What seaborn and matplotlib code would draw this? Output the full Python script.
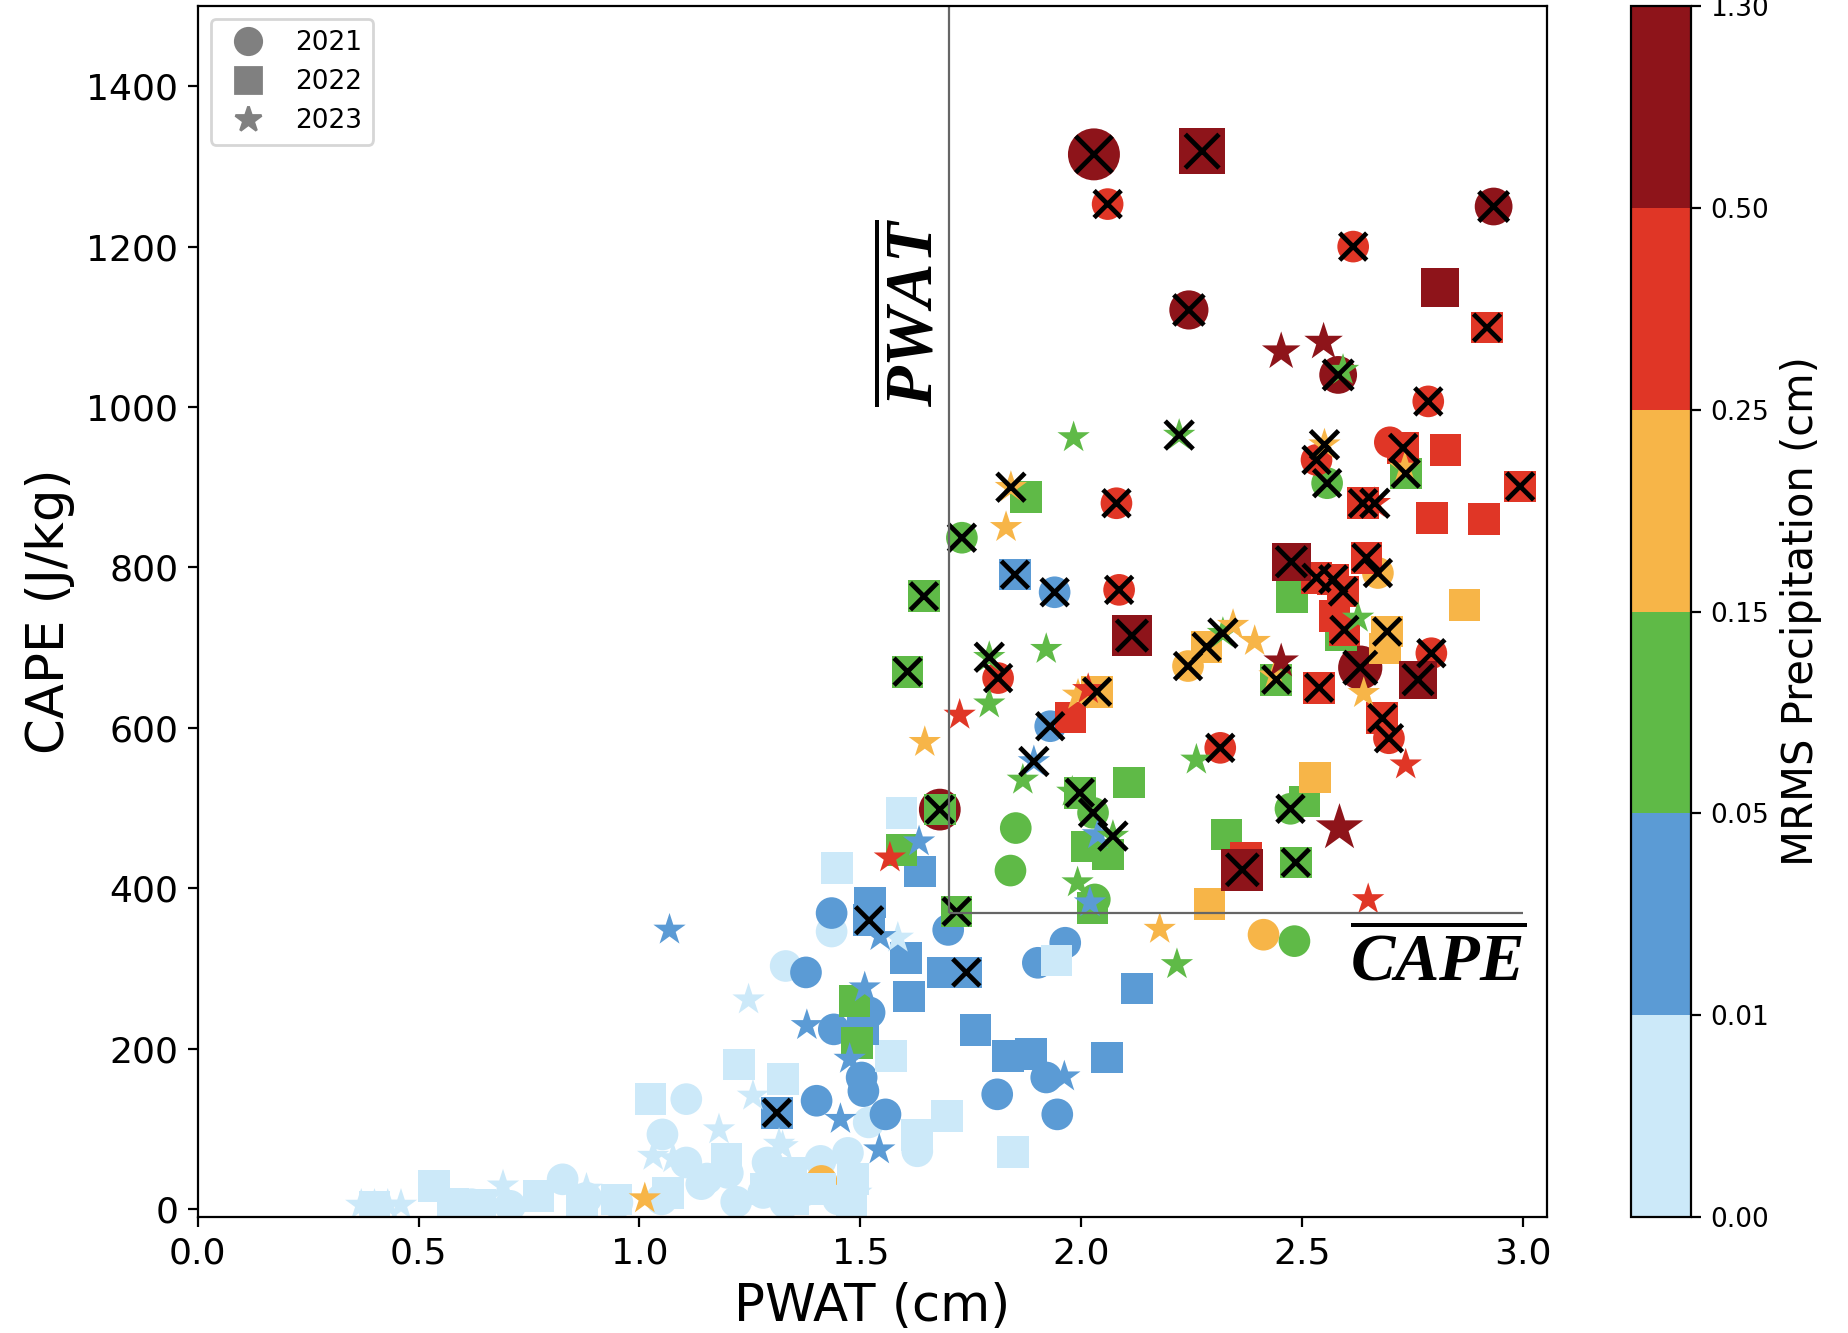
import matplotlib
matplotlib.use('Agg')
import matplotlib.pyplot as plt
from matplotlib.colors import ListedColormap, BoundaryNorm
from matplotlib.cm import ScalarMappable
from matplotlib.lines import Line2D
import pandas as pd
import seaborn as sns

plt.rcParams['mathtext.fontset'] = 'custom'
plt.rcParams['mathtext.bf'] = 'Liberation Serif:italic:bold'

bounds = [0, 0.01, 0.05, 0.15, 0.25, 0.5, 1.3]
bound_labels = ['0.00', '0.01', '0.05', '0.15', '0.25', '0.50', '1.30']
bin_colors = ['#cce9f9', '#5b9bd5', '#5fba47', '#f7b548', '#e03626', '#8e141a']
year_markers = {2021: 'o', 2022: 's', 2023: '*'}

# mean lines
pwat_mean = 1.70
cape_mean = 369

# ---- 2021 (circles), ordered light blue -> dark red
pwat_2021 = [1.435, 1.331, 1.519, 1.472, 1.629, 1.106, 1.106, 1.052, 1.140, 1.219, 1.290, 0.826,
             0.707, 1.153, 1.374, 0.950, 1.050, 1.280, 1.330, 0.620, 0.880, 1.450, 1.200, 1.410,
             1.940, 1.930, 1.699, 1.435, 1.377, 1.902, 1.964, 1.521, 1.440, 1.503, 1.507, 1.401,
             1.557, 1.810, 1.946, 1.921,
             2.557, 1.730, 2.027, 1.852, 1.840, 2.031, 2.474, 2.483,
             2.242, 2.672, 2.413, 1.412,
             2.060, 2.616, 2.786, 2.080, 2.533, 2.699, 2.086, 1.812, 2.315, 2.793, 2.697,
             2.029, 2.244, 2.934, 2.582, 2.632, 1.680]
cape_2021 = [346, 303, 108, 70, 72, 137, 58, 93, 31, 9, 58, 37,
             4, 38, 23, 8, 12, 20, 8, 6, 14, 12, 45, 60,
             769, 602, 348, 369, 295, 307, 332, 245, 224, 164, 147, 135,
             118, 143, 118, 164,
             905, 837, 494, 475, 422, 386, 499, 334,
             677, 793, 342, 35,
             1253, 1200, 1007, 880, 934, 956, 772, 662, 575, 693, 587,
             1315, 1121, 1250, 1040, 675, 498]
precip_2021 = [0.005, 0.005, 0.005, 0.005, 0.005, 0.005, 0.005, 0.005, 0.005, 0.005, 0.005, 0.005,
               0.005, 0.005, 0.005, 0.005, 0.005, 0.005, 0.005, 0.005, 0.005, 0.005, 0.005, 0.005,
               0.03, 0.03, 0.03, 0.03, 0.03, 0.03, 0.03, 0.03, 0.03, 0.03, 0.03, 0.03,
               0.03, 0.03, 0.03, 0.03,
               0.1, 0.1, 0.1, 0.1, 0.1, 0.1, 0.1, 0.1,
               0.2, 0.2, 0.2, 0.2,
               0.35, 0.35, 0.35, 0.35, 0.35, 0.35, 0.35, 0.35, 0.35, 0.35, 0.35,
               1.30, 0.75, 0.70, 0.70, 0.95, 0.85]
cross_2021 = [0, 0, 0, 0, 0, 0, 0, 0, 0, 0, 0, 0,
              0, 0, 0, 0, 0, 0, 0, 0, 0, 0, 0, 0,
              1, 1, 0, 0, 0, 0, 0, 0, 0, 0, 0, 0,
              0, 0, 0, 0,
              1, 1, 1, 0, 0, 0, 1, 0,
              1, 1, 0, 0,
              1, 1, 1, 1, 1, 0, 1, 1, 1, 1, 1,
              1, 1, 1, 1, 1, 0]

# ---- 2022 (squares)
pwat_2022 = [1.593, 1.447, 1.944, 1.570, 1.697, 1.846, 1.629, 1.025, 1.226, 1.325, 0.535, 0.577,
             0.771, 0.948, 1.065, 1.197, 1.343, 1.408, 1.484, 1.287, 1.348, 0.400, 0.640, 0.870, 1.480,
             1.850, 1.635, 1.522, 1.520, 1.603, 1.740, 1.686, 1.610, 1.506, 1.761, 1.835, 1.887,
             2.059, 2.127, 1.311,
             1.875, 1.644, 1.607, 1.997, 2.109, 2.012, 2.061, 2.026, 1.680, 1.593, 1.718, 2.478,
             2.589, 2.442, 2.735, 2.506, 2.329, 2.486, 1.487, 1.493,
             2.036, 2.284, 2.688, 2.693, 2.868, 2.529, 2.291,
             2.919, 2.729, 2.825, 2.994, 2.638, 2.795, 2.912, 2.533, 2.571, 2.593, 2.646, 2.574,
             2.596, 2.539, 2.682, 1.976, 2.374,
             2.274, 2.813, 2.115, 2.476, 2.763, 2.365]
cape_2022 = [494, 425, 310, 191, 116, 71, 92, 137, 180, 162, 29, 6,
             16, 12, 20, 62, 45, 25, 37, 25, 12, 3, 5, 8, 10,
             791, 421, 382, 360, 313, 295, 295, 265, 224, 223, 191, 193,
             189, 275, 120,
             888, 764, 670, 519, 532, 452, 442, 375, 498, 448, 371, 763,
             715, 660, 917, 508, 467, 432, 259, 207,
             645, 701, 699, 720, 753, 538, 380,
             1099, 949, 946, 901, 880, 862, 860, 787, 785, 770, 812, 739,
             722, 650, 612, 613, 438,
             1319, 1149, 715, 807, 660, 423]
precip_2022 = [0.005, 0.005, 0.005, 0.005, 0.005, 0.005, 0.005, 0.005, 0.005, 0.005, 0.005, 0.005,
               0.005, 0.005, 0.005, 0.005, 0.005, 0.005, 0.005, 0.005, 0.005, 0.005, 0.005, 0.005, 0.005,
               0.03, 0.03, 0.03, 0.03, 0.03, 0.03, 0.03, 0.03, 0.03, 0.03, 0.03, 0.03,
               0.03, 0.03, 0.03,
               0.1, 0.1, 0.1, 0.1, 0.1, 0.1, 0.1, 0.1, 0.1, 0.1, 0.1, 0.1,
               0.1, 0.1, 0.1, 0.1, 0.1, 0.1, 0.1, 0.1,
               0.2, 0.2, 0.2, 0.2, 0.2, 0.2, 0.2,
               0.35, 0.35, 0.35, 0.35, 0.35, 0.35, 0.35, 0.35, 0.35, 0.35, 0.35, 0.35,
               0.35, 0.35, 0.35, 0.35, 0.35,
               1.05, 0.72, 0.80, 0.72, 0.72, 0.85]
cross_2022 = [0, 0, 0, 0, 0, 0, 0, 0, 0, 0, 0, 0,
              0, 0, 0, 0, 0, 0, 0, 0, 0, 0, 0, 0, 0,
              1, 0, 0, 1, 0, 1, 0, 0, 0, 0, 0, 0,
              0, 0, 1,
              0, 1, 1, 1, 0, 0, 0, 0, 1, 0, 1, 0,
              0, 1, 1, 0, 0, 1, 0, 0,
              1, 1, 0, 1, 0, 0, 0,
              1, 1, 0, 1, 1, 0, 0, 1, 1, 1, 1, 0,
              1, 1, 1, 0, 0,
              1, 0, 1, 1, 1, 1]

# ---- 2023 (stars)
pwat_2023 = [1.585, 1.247, 1.257, 1.316, 1.180, 1.031, 1.076, 0.880, 0.691, 1.491, 0.370, 0.400,
             0.430, 0.460, 1.324,
             1.893, 2.038, 2.020, 1.633, 1.068, 1.545, 1.510, 1.379, 1.476, 1.455, 1.543, 1.962,
             1.983, 2.222, 2.593, 1.792, 1.921, 1.792, 1.868, 1.980, 2.072, 1.992, 2.261, 2.321,
             2.627, 2.217,
             1.841, 1.830, 1.646, 1.993, 2.551, 2.733, 2.344, 2.393, 2.438, 2.640, 2.178, 1.012,
             1.725, 2.016, 2.665, 2.735, 2.650, 1.567,
             2.453, 2.549, 2.585, 2.453]
cape_2023 = [338, 261, 141, 81, 99, 66, 63, 25, 29, 20, 5, 5,
             5, 5, 78,
             558, 467, 382, 458, 348, 340, 276, 229, 187, 112, 74, 165,
             962, 965, 1046, 688, 698, 630, 535, 520, 465, 407, 560, 718,
             737, 305,
             900, 850, 582, 641, 953, 924, 728, 708, 665, 643, 349, 13,
             616, 648, 880, 554, 386, 438,
             1069, 1081, 475, 683]
precip_2023 = [0.005, 0.005, 0.005, 0.005, 0.005, 0.005, 0.005, 0.005, 0.005, 0.005, 0.005, 0.005,
               0.005, 0.005, 0.005,
               0.03, 0.03, 0.03, 0.03, 0.03, 0.03, 0.03, 0.03, 0.03, 0.03, 0.03, 0.03,
               0.1, 0.1, 0.1, 0.1, 0.1, 0.1, 0.1, 0.1, 0.1, 0.1, 0.1, 0.1,
               0.1, 0.1,
               0.2, 0.2, 0.2, 0.2, 0.2, 0.2, 0.2, 0.2, 0.2, 0.2, 0.2, 0.2,
               0.35, 0.35, 0.35, 0.35, 0.35, 0.35,
               0.70, 0.70, 1.05, 0.60]
cross_2023 = [0, 0, 0, 0, 0, 0, 0, 0, 0, 0, 0, 0,
              0, 0, 0,
              1, 0, 0, 0, 0, 0, 0, 0, 0, 0, 0, 0,
              0, 1, 0, 1, 0, 0, 0, 0, 1, 0, 0, 1,
              0, 0,
              1, 0, 0, 0, 1, 0, 0, 0, 0, 0, 0, 0,
              0, 0, 1, 0, 0, 0,
              0, 0, 0, 0]

frames = []
for yr, pw, cp, pr, cr in [(2021, pwat_2021, cape_2021, precip_2021, cross_2021),
                           (2022, pwat_2022, cape_2022, precip_2022, cross_2022),
                           (2023, pwat_2023, cape_2023, precip_2023, cross_2023)]:
    frames.append(pd.DataFrame({'pwat': pw, 'cape': cp, 'precip': pr, 'cross': cr, 'year': yr}))
df = pd.concat(frames, ignore_index=True)
# heavier rain -> bigger marker
df['size'] = 130 + 275 * (df['precip'] - 0.5).clip(lower=0)
df.loc[df['year'] == 2023, 'size'] *= 1.15

cmap = ListedColormap(bin_colors)
norm = BoundaryNorm(bounds, cmap.N)

fig = plt.figure(figsize=(9.245, 6.665), dpi=200)
ax = fig.add_axes([0.107, 0.087, 0.7297, 0.9085])
cax = fig.add_axes([0.882, 0.087, 0.0325, 0.9085])

sns.scatterplot(data=df, x='pwat', y='cape', hue='precip', palette=cmap, hue_norm=norm,
                style='year', markers=year_markers, s=df['size'].to_numpy(),
                linewidth=0, legend=False, ax=ax)
crossed = df[df['cross'] == 1]
sns.scatterplot(data=crossed, x='pwat', y='cape', marker='x', color='black',
                s=(95 + 0.35 * (crossed['size'] - 130)).to_numpy(), linewidth=1.7,
                legend=False, ax=ax)

ax.set_xlim(0, 3.055)
ax.set_ylim(-10, 1500)
ax.vlines(pwat_mean, cape_mean, 1500, color='0.4', lw=0.8)
ax.hlines(cape_mean, pwat_mean, 3.0, color='0.4', lw=0.8)
ax.text(1.62, 1118, r'$\overline{\mathbf{PWAT}}$', rotation=90, ha='center', va='center', fontsize=24)
ax.text(2.808, 310, r'$\overline{\mathbf{CAPE}}$', ha='center', va='center', fontsize=24)

ax.set_xticks([0.0, 0.5, 1.0, 1.5, 2.0, 2.5, 3.0])
ax.set_yticks([0, 200, 400, 600, 800, 1000, 1200, 1400])
ax.tick_params(labelsize=13)
ax.set_xlabel('PWAT (cm)', fontsize=18.5)
ax.set_ylabel('CAPE (J/kg)', fontsize=18.5)

handles = [Line2D([], [], marker=year_markers[y], color='gray', linestyle='', markersize=9.5)
           for y in [2021, 2022, 2023]]
ax.legend(handles, ['2021', '2022', '2023'], loc='upper left', fontsize=9.5)

cb = fig.colorbar(ScalarMappable(norm=norm, cmap=cmap), cax=cax, ticks=bounds, spacing='uniform')
cb.ax.set_yticklabels(bound_labels)
cb.ax.tick_params(labelsize=9.5)
cb.set_label('MRMS Precipitation (cm)', fontsize=15)

fig.savefig('out.png', dpi=200)
